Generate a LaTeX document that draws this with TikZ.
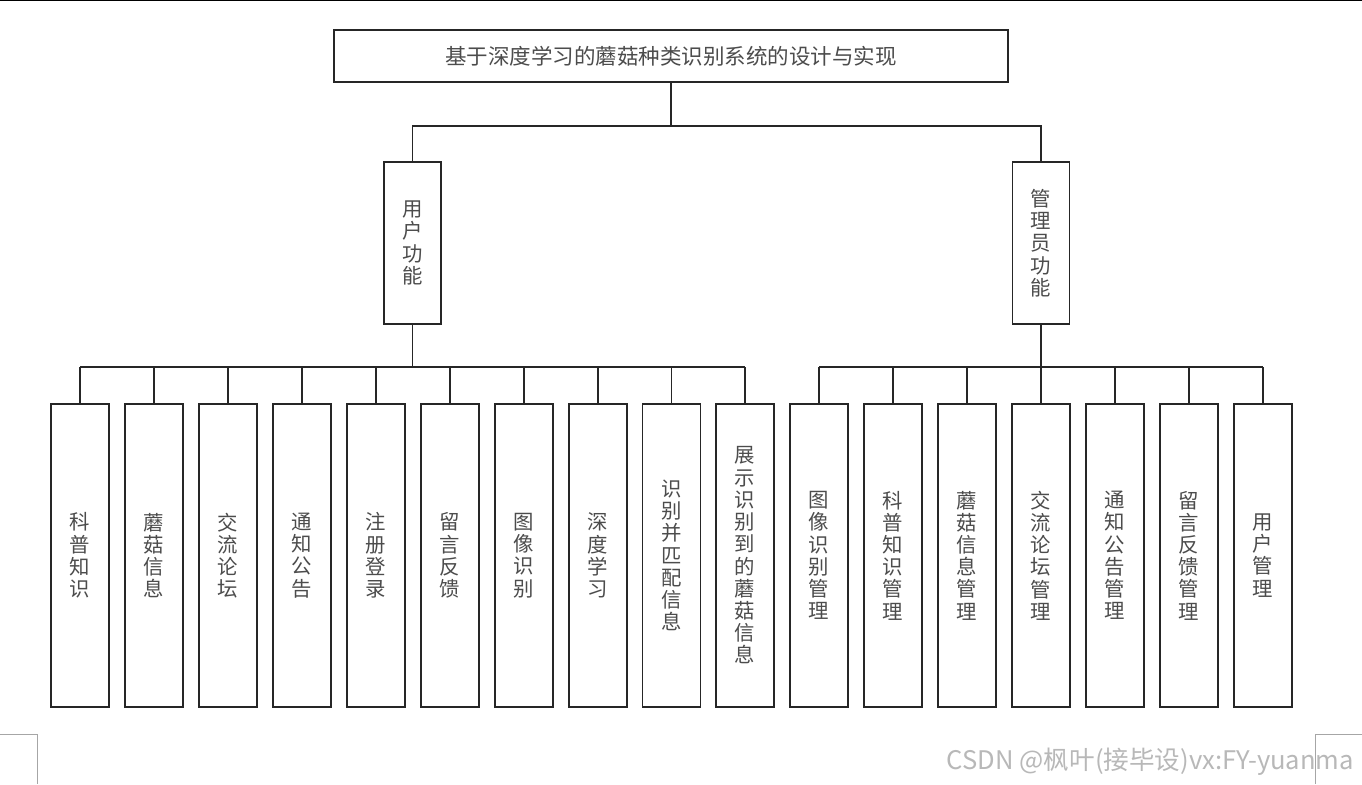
\documentclass[tikz,border=0pt]{standalone}
\usepackage{fontspec}
\newfontfamily\cjk{Noto Sans CJK SC}
\usetikzlibrary{positioning, calc}

\begin{document}
\begin{tikzpicture}[x=0.025cm, y=-0.025cm]
    \tikzset{
        box line/.style={draw=black!85, line width=1.2pt, fill=white},
        title box/.style={
                box line, minimum width=16.85cm, minimum height=1.3cm,
                font=\cjk\fontsize{15.3}{16}\selectfont, text=black!70
            },
        role box/.style={
                box line, minimum width=1.425cm, minimum height=4.05cm, align=center,
                font=\cjk\fontsize{14.5}{15.8}\selectfont, text=black!70
            },
        leaf box/.style={
                box line, minimum width=1.45cm, minimum height=7.575cm, align=center,
                font=\cjk\fontsize{14.5}{15.8}\selectfont, text=black!70
            },
        link/.style={draw=black!85, line width=1.2pt},
        page mark/.style={draw=black!35, line width=0.4pt}
    }
    \useasboundingbox (0,0) rectangle (1362,784);

    % page edges
    \draw[line width=1.2pt] (0,0.6) -- (1362,0.6);
    \draw[page mark] (0,734) -- (37,734) -- (37,784);
    \draw[page mark] (1362,734) -- (1315,734) -- (1315,784);

    % top and second level
    \node[title box] (title) at (671,56) {基于深度学习的蘑菇种类识别系统的设计与实现};
    \node[role box] (user) at (412.5,243) {用\\户\\功\\能};
    \node[role box] (admin) at (1041,243) {管\\理\\员\\功\\能};

    \coordinate (top bus) at (0,126);
    \coordinate (user bus) at (0,367);
    \coordinate (admin bus) at (0,367);

    % user functions
    \node[leaf box] (u1) at (80,555.5) {科\\普\\知\\识};
    \node[leaf box] (u2) at (154,555.5) {蘑\\菇\\信\\息};
    \node[leaf box] (u3) at (228,555.5) {交\\流\\论\\坛};
    \node[leaf box] (u4) at (302,555.5) {通\\知\\公\\告};
    \node[leaf box] (u5) at (376,555.5) {注\\册\\登\\录};
    \node[leaf box] (u6) at (450,555.5) {留\\言\\反\\馈};
    \node[leaf box] (u7) at (524,555.5) {图\\像\\识\\别};
    \node[leaf box] (u8) at (598,555.5) {深\\度\\学\\习};
    \node[leaf box] (u9) at (671.5,555.5) {识\\别\\并\\匹\\配\\信\\息};
    \node[leaf box] (u10) at (745,555.5) {展\\示\\识\\别\\到\\的\\蘑\\菇\\信\\息};

    % admin functions
    \node[leaf box] (a1) at (819,555.5) {图\\像\\识\\别\\管\\理};
    \node[leaf box] (a2) at (893,555.5) {科\\普\\知\\识\\管\\理};
    \node[leaf box] (a3) at (967,555.5) {蘑\\菇\\信\\息\\管\\理};
    \node[leaf box] (a4) at (1041,555.5) {交\\流\\论\\坛\\管\\理};
    \node[leaf box] (a5) at (1115,555.5) {通\\知\\公\\告\\管\\理};
    \node[leaf box] (a6) at (1189,555.5) {留\\言\\反\\馈\\管\\理};
    \node[leaf box] (a7) at (1263,555.5) {用\\户\\管\\理};

    % connectors
    \draw[link] (title.south) -- (title.south |- top bus);
    \draw[link] (user.north) |- (admin.north |- top bus) -- (admin.north);

    \draw[link] (user.south) -- (user.south |- user bus);
    \draw[link] (u1.north |- user bus) -- (u10.north |- user bus);
    \foreach \i in {1,...,10}
    \draw[link] (u\i.north) -- (u\i.north |- user bus);

    \draw[link] (admin.south) -- (admin.south |- admin bus);
    \draw[link] (a1.north |- admin bus) -- (a7.north |- admin bus);
    \foreach \i in {1,...,7}
    \draw[link] (a\i.north) -- (a\i.north |- admin bus);

    \node[font=\cjk\fontsize{18.2}{19}\selectfont, text=black!28, anchor=east] (mark) at (1359,762) {CSDN @枫叶(接毕设)vx:FY-yuanma};
\end{tikzpicture}
\end{document}
